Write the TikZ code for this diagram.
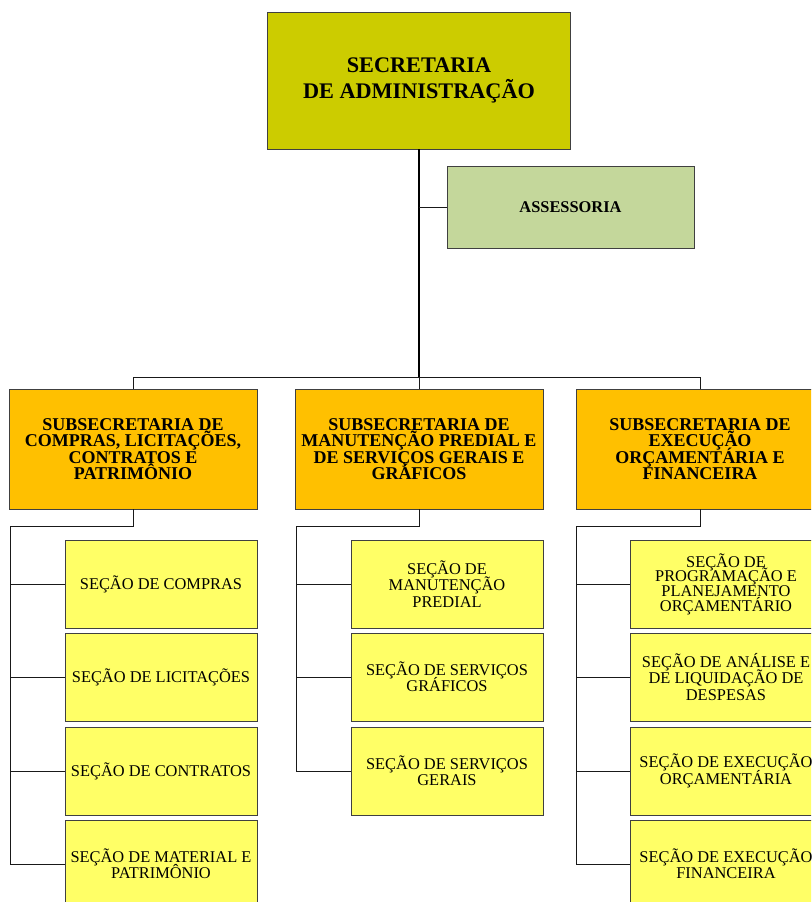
\documentclass[tikz,border=0pt]{standalone}
\usepackage{fontspec}
\setmainfont{Liberation Serif}
\usetikzlibrary{calc}
\definecolor{topc}{HTML}{CCCC00}
\definecolor{assc}{HTML}{C4D79B}
\definecolor{subc}{HTML}{FFC000}
\definecolor{secc}{HTML}{FFFF66}
\definecolor{bord}{HTML}{404040}
\newcommand{\fixlead}{\lineskiplimit=-100pt\lineskip=0pt}
\tikzset{
  box/.style={draw=bord, line width=0.7pt, align=center, inner sep=2pt},
  topbox/.style={box, fill=topc, minimum width=227.25pt, minimum height=102.75pt,
     font=\bfseries\fontsize{16.7}{19.5}\selectfont\fixlead},
  assbox/.style={box, fill=assc, minimum width=185.25pt, minimum height=61.5pt,
     font=\bfseries\fontsize{12.3}{14}\selectfont\fixlead},
  subbox/.style={box, fill=subc, minimum width=186pt, minimum height=90pt,
     font=\bfseries\fontsize{13.5}{12.3}\selectfont\fixlead},
  secbox/.style={box, fill=secc, minimum width=144pt, minimum height=66pt,
     font=\fontsize{12.3}{12.3}\selectfont\fixlead},
  conn/.style={draw=black, line width=1.5pt},
  thin/.style={draw=black!90, line width=0.65pt}
}
\begin{document}
\begin{tikzpicture}[x=0.75pt, y=-0.75pt]
\useasboundingbox (0,0) rectangle (811,902);
\clip (0,0) rectangle (811,902);
\fill[white] (0,0) rectangle (811,902);

\coordinate (busL) at (133,377);
\coordinate (lv) at (10,526);
\coordinate (mv) at (296,526);
\coordinate (rv) at (576,526);

\node[topbox] (top) at (419,80.5) {SECRETARIA\\DE ADMINISTRAÇÃO};
\node[assbox] (ass) at (570.5,207) {ASSESSORIA};

\node[subbox] (s1) at (133,449) {SUBSECRETARIA DE\\COMPRAS, LICITAÇÕES,\\CONTRATOS E\\PATRIMÔNIO};
\node[subbox] (s2) at (419,449) {SUBSECRETARIA DE\\MANUTENÇÃO PREDIAL E\\DE SERVIÇOS GERAIS E\\GRÁFICOS};
\node[subbox] (s3) at (700,449) {SUBSECRETARIA DE\\EXECUÇÃO\\ORÇAMENTÁRIA E\\FINANCEIRA};

\node[secbox] (a1) at (161,584) {SEÇÃO DE COMPRAS};
\node[secbox] (a2) at (161,677) {SEÇÃO DE LICITAÇÕES};
\node[secbox] (a3) at (161,771) {SEÇÃO DE CONTRATOS};
\node[secbox] (a4) at (161,864) {SEÇÃO DE MATERIAL E\\PATRIMÔNIO};

\node[secbox] (b1) at (447,584) {SEÇÃO DE\\MANUTENÇÃO\\PREDIAL};
\node[secbox] (b2) at (447,677) {SEÇÃO DE SERVIÇOS\\GRÁFICOS};
\node[secbox] (b3) at (447,771) {SEÇÃO DE SERVIÇOS\\GERAIS};

\node[secbox, font=\fontsize{12.3}{11}\selectfont\fixlead] (c1) at (726,584) {SEÇÃO DE\\PROGRAMAÇÃO E\\PLANEJAMENTO\\ORÇAMENTÁRIO};
\node[secbox] (c2) at (726,677) {SEÇÃO DE ANÁLISE E\\DE LIQUIDAÇÃO DE\\DESPESAS};
\node[secbox] (c3) at (726,771) {SEÇÃO DE EXECUÇÃO\\ORÇAMENTÁRIA};
\node[secbox] (c4) at (726,864) {SEÇÃO DE EXECUÇÃO\\FINANCEIRA};

% top level
\draw[conn] (top.south) -- (top.south |- busL);
\draw[thin] (ass.west) -- (ass.west -| top.south);
\draw[thin] (s1.north) -- (s1.north |- busL) -- (s3.north |- busL) -- (s3.north);
\draw[thin] (s2.north) -- (s2.north |- busL);

% left group
\draw[thin] (s1.south) -- (s1.south |- lv) -- (lv) -- (lv |- a4.west) -- (a4.west);
\draw[thin] (a1.west) -- (a1.west -| lv);
\draw[thin] (a2.west) -- (a2.west -| lv);
\draw[thin] (a3.west) -- (a3.west -| lv);

% middle group
\draw[thin] (s2.south) -- (s2.south |- mv) -- (mv) -- (mv |- b3.west) -- (b3.west);
\draw[thin] (b1.west) -- (b1.west -| mv);
\draw[thin] (b2.west) -- (b2.west -| mv);

% right group
\draw[thin] (s3.south) -- (s3.south |- rv) -- (rv) -- (rv |- c4.west) -- (c4.west);
\draw[thin] (c1.west) -- (c1.west -| rv);
\draw[thin] (c2.west) -- (c2.west -| rv);
\draw[thin] (c3.west) -- (c3.west -| rv);
\end{tikzpicture}
\end{document}
